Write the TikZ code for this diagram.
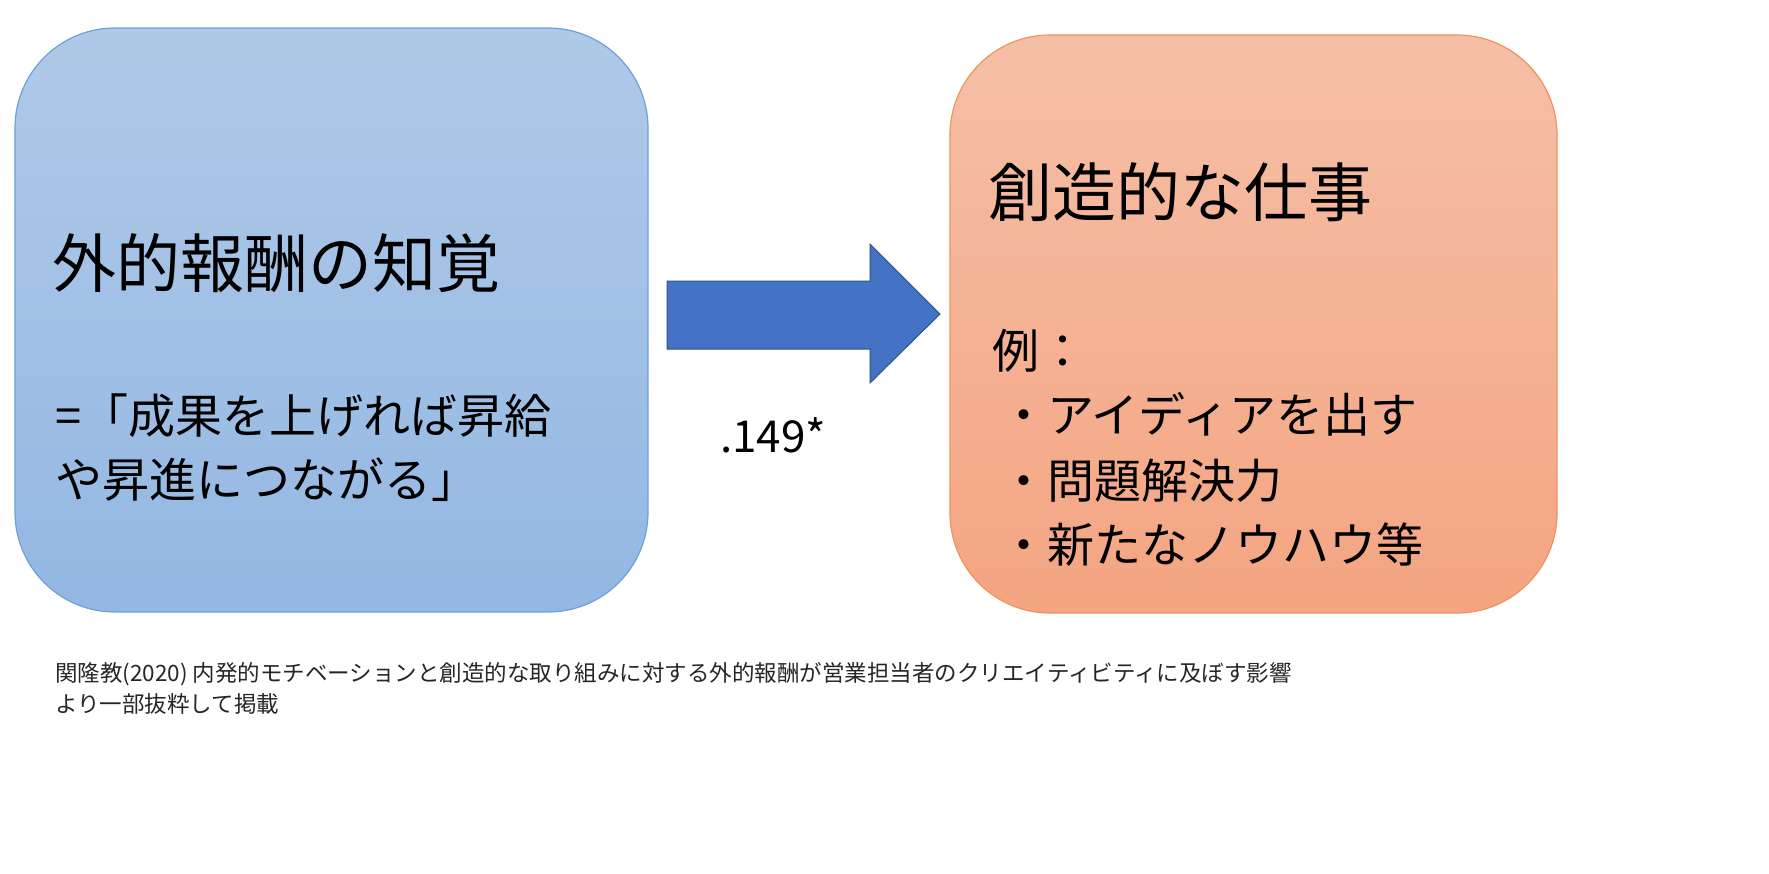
\documentclass[tikz,border=0pt]{standalone}
\usepackage{fontspec}
\setmainfont{Noto Sans CJK JP}
\definecolor{lbt}{HTML}{AFC9E8}\definecolor{lbb}{HTML}{93B8E3}\definecolor{lbd}{HTML}{6F9FD8}
\definecolor{rbt}{HTML}{F5BFA6}\definecolor{rbb}{HTML}{F4A582}\definecolor{rbd}{HTML}{F0935F}
\definecolor{arr}{HTML}{4472C4}\definecolor{arrd}{HTML}{2F528F}
\begin{document}
\begin{tikzpicture}[x=1pt,y=-1pt,
  txt/.style={anchor=base west,inner sep=0pt,text=black},
  big/.style={txt,font=\fontsize{64}{70}\selectfont},
  mid/.style={txt,font=\fontsize{47}{52}\selectfont},
  captxt/.style={txt,font=\fontsize{22.5}{26}\selectfont,text=black!85}]
\fill[white] (0,0) rectangle (1769,873);
\begin{scope}
\clip[rounded corners=100pt] (15,28) rectangle (648,612);
\foreach \i in {0,...,39}{
  \pgfmathsetmacro{\p}{100-\i*100/39}
  \fill[lbt!\p!lbb] (15,{28+\i*14.6}) rectangle (648,{28+(\i+1)*14.6+1});}
\end{scope}
\draw[lbd,line width=1.2pt,rounded corners=100pt] (15,28) rectangle (648,612);
\begin{scope}
\clip[rounded corners=100pt] (950,35) rectangle (1557,613);
\foreach \i in {0,...,39}{
  \pgfmathsetmacro{\p}{100-\i*100/39}
  \fill[rbt!\p!rbb] (950,{35+\i*14.45}) rectangle (1557,{35+(\i+1)*14.45+1});}
\end{scope}
\draw[rbd,line width=1.2pt,rounded corners=100pt] (950,35) rectangle (1557,613);
\draw[arrd,fill=arr,line width=1pt] (667,281) -- (870,281) -- (870,244) -- (940,314) -- (870,383) -- (870,349) -- (667,349) -- cycle;
\node[big] (t1) at (52,287) {外的報酬の知覚};
\node[mid] (l1) at (55,433) {=「成果を上げれば昇給};
\node[mid] (l2) at (55,497) {や昇進につながる」};
\node[txt,font=\fontsize{44}{50}\selectfont] (v) at (720,452) {.149*};
\node[big] (t2) at (988,216) {創造的な仕事};
\node[mid] (e0) at (992,368) {例：};
\node[mid] (e1) at (1000,432) {・アイディアを出す};
\node[mid] (e2) at (1000,498) {・問題解決力};
\node[mid] (e3) at (1000,562) {・新たなノウハウ等};
\node[captxt] (c1) at (55,681) {関隆教(2020) 内発的モチベーションと創造的な取り組みに対する外的報酬が営業担当者のクリエイティビティに及ぼす影響};
\node[captxt] (c2) at (55,712) {より一部抜粋して掲載};
\end{tikzpicture}
\end{document}
